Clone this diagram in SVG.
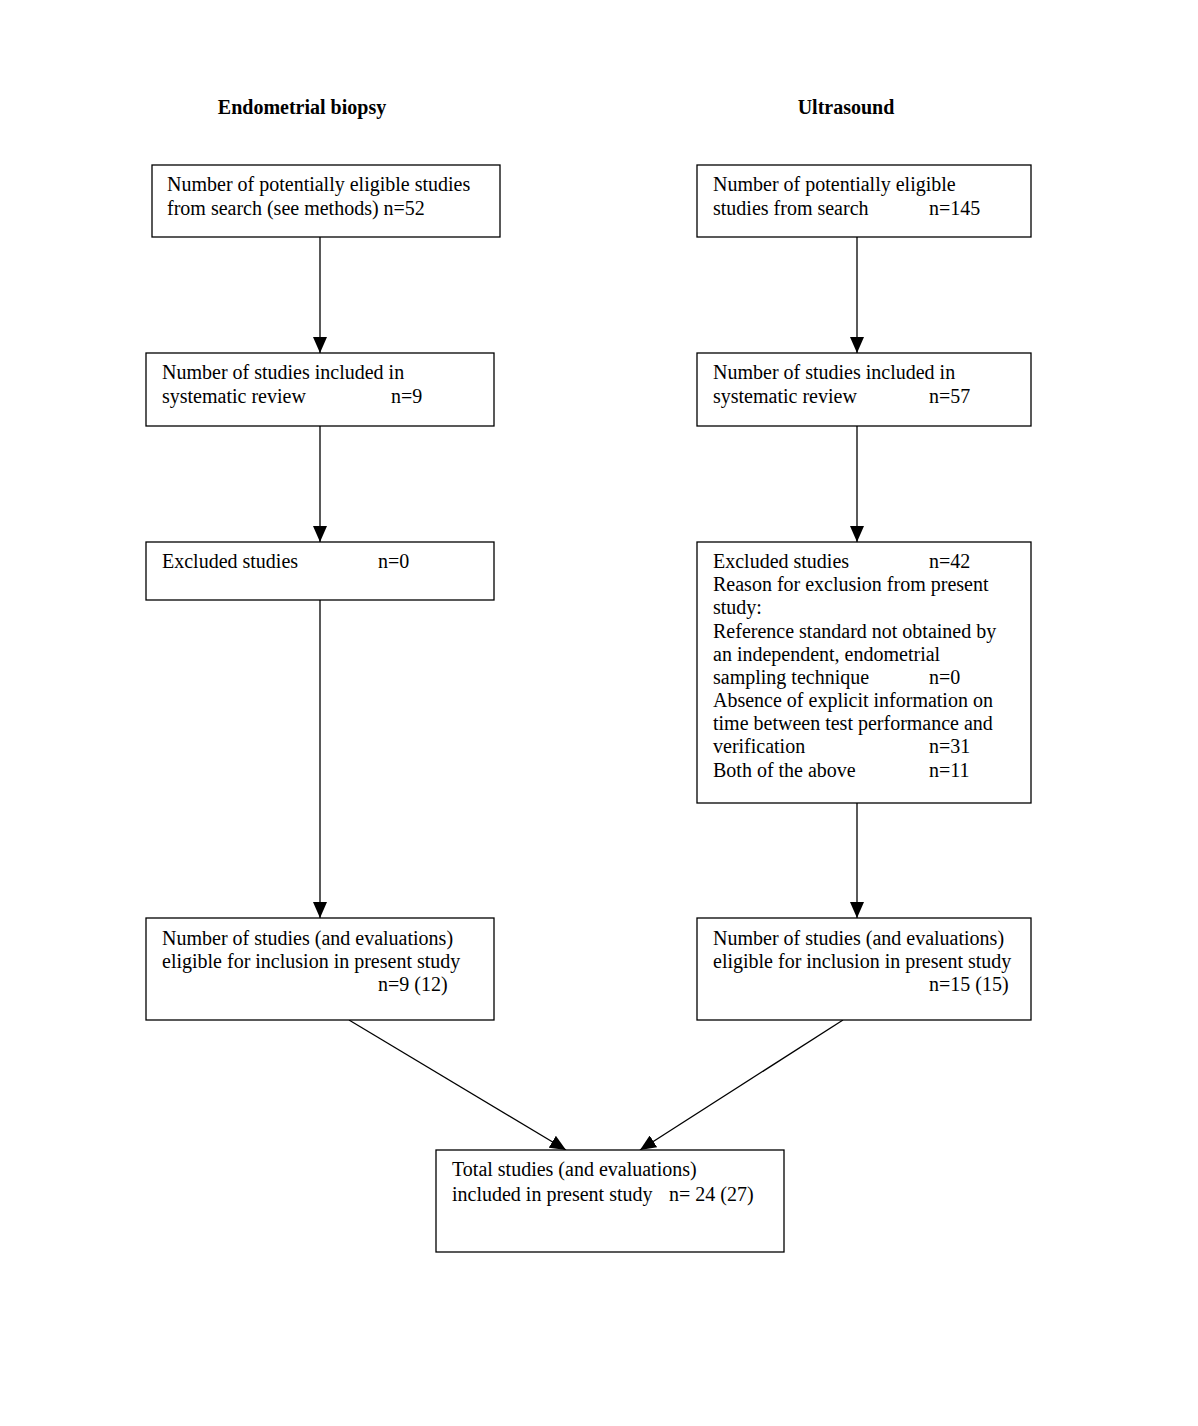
<svg xmlns="http://www.w3.org/2000/svg" width="1198" height="1426" viewBox="0 0 1198 1426">
<defs>
<style>
text{font-family:"Liberation Serif","DejaVu Serif",serif;font-size:20px;fill:#000}
.t{font-weight:bold;font-size:20px}
rect{fill:#fff;stroke:#000;stroke-width:1.3}
.c line{stroke:#000;stroke-width:1.3}
</style>
<marker id="ah" viewBox="0 0 16 14" refX="16" refY="7" markerWidth="16" markerHeight="14" markerUnits="userSpaceOnUse" orient="auto">
<path d="M0,0 L16,7 L0,14 Z" fill="#000"/>
</marker>
</defs>
<rect x="0" y="0" width="1198" height="1426" style="fill:#fff;stroke:none"/>
<text class="t" x="302" y="114" text-anchor="middle">Endometrial biopsy</text>
<text class="t" x="846" y="114" text-anchor="middle">Ultrasound</text>
<g class="c">
<line x1="320" y1="237" x2="320" y2="353" marker-end="url(#ah)"/>
<line x1="857" y1="237" x2="857" y2="353" marker-end="url(#ah)"/>
<line x1="320" y1="426" x2="320" y2="542" marker-end="url(#ah)"/>
<line x1="857" y1="426" x2="857" y2="542" marker-end="url(#ah)"/>
<line x1="320" y1="600" x2="320" y2="918" marker-end="url(#ah)"/>
<line x1="857" y1="803" x2="857" y2="918" marker-end="url(#ah)"/>
<line x1="349" y1="1020" x2="566" y2="1150" marker-end="url(#ah)"/>
<line x1="843" y1="1020" x2="640" y2="1150" marker-end="url(#ah)"/>
</g>
<g id="l1"><rect x="152" y="165" width="348" height="72"/>
<text x="167" y="191">Number of potentially eligible studies</text>
<text x="167" y="215">from search (see methods) n=52</text></g>
<g id="r1"><rect x="697" y="165" width="334" height="72"/>
<text x="713" y="191">Number of potentially eligible</text>
<text x="713" y="215">studies from search</text><text x="929" y="215">n=145</text></g>
<g id="l2"><rect x="146" y="353" width="348" height="73"/>
<text x="162" y="379">Number of studies included in</text>
<text x="162" y="403">systematic review</text><text x="391" y="403">n=9</text></g>
<g id="r2"><rect x="697" y="353" width="334" height="73"/>
<text x="713" y="379">Number of studies included in</text>
<text x="713" y="403">systematic review</text><text x="929" y="403">n=57</text></g>
<g id="l3"><rect x="146" y="542" width="348" height="58"/>
<text x="162" y="568">Excluded studies</text><text x="378" y="568">n=0</text></g>
<g id="r3"><rect x="697" y="542" width="334" height="261"/>
<text x="713" y="568">Excluded studies</text><text x="929" y="568">n=42</text>
<text x="713" y="591">Reason for exclusion from present</text>
<text x="713" y="614">study:</text>
<text x="713" y="638">Reference standard not obtained by</text>
<text x="713" y="661">an independent, endometrial</text>
<text x="713" y="684">sampling technique</text><text x="929" y="684">n=0</text>
<text x="713" y="707">Absence of explicit information on</text>
<text x="713" y="730">time between test performance and</text>
<text x="713" y="753">verification</text><text x="929" y="753">n=31</text>
<text x="713" y="777">Both of the above</text><text x="929" y="777">n=11</text></g>
<g id="l4"><rect x="146" y="918" width="348" height="102"/>
<text x="162" y="945">Number of studies (and evaluations)</text>
<text x="162" y="968">eligible for inclusion in present study</text>
<text x="378" y="991">n=9 (12)</text></g>
<g id="r4"><rect x="697" y="918" width="334" height="102"/>
<text x="713" y="945">Number of studies (and evaluations)</text>
<text x="713" y="968">eligible for inclusion in present study</text>
<text x="929" y="991">n=15 (15)</text></g>
<g id="b"><rect x="436" y="1150" width="348" height="102"/>
<text x="452" y="1176">Total studies (and evaluations)</text>
<text x="452" y="1201">included in present study</text><text x="669" y="1201">n= 24 (27)</text></g>
</svg>
